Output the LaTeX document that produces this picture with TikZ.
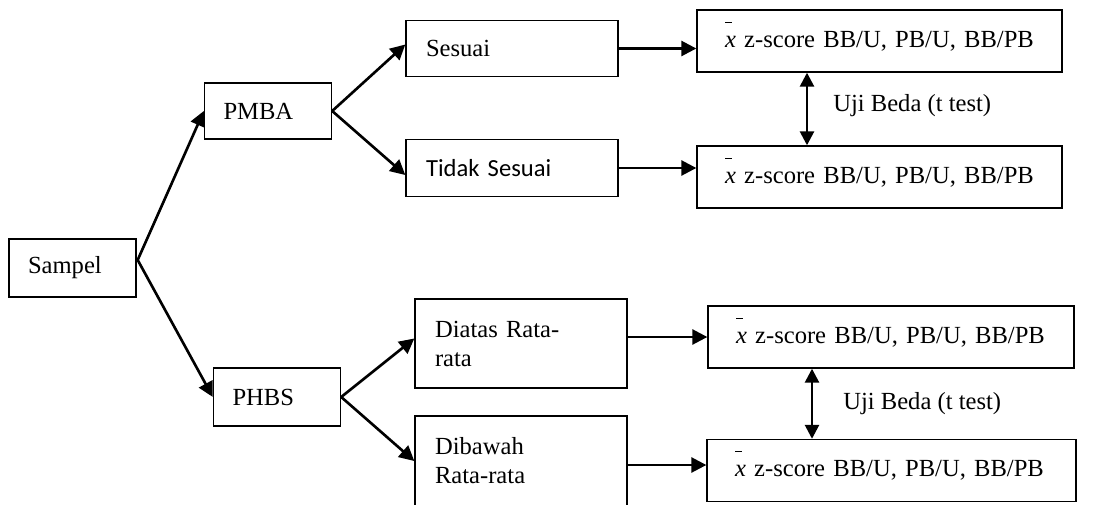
\documentclass[tikz,border=0pt]{standalone}
\usepackage{fontspec}
\setmainfont{Liberation Serif}
\newfontfamily\calibri{Carlito}
\usetikzlibrary{calc,positioning,arrows.meta}

\newcommand{\meanx}{\raisebox{1em}[0pt][0pt]{\rule{0.3em}{0.6pt}}\kern-0.3em\textit{x}}

\begin{document}
\begin{tikzpicture}[x=0.02cm,y=-0.02cm,
  box/.style={draw,line width=0.8pt,font=\fontsize{14pt}{16.5pt}\selectfont,align=left,inner ysep=0pt},
  smallbox/.style={box,text width=1.78cm,inner xsep=0.38cm,minimum height=1.16cm},
  midbox/.style={box,text width=3.44cm,inner xsep=0.4cm,minimum height=1.13cm},
  zbox/.style={box,text width=6.18cm,inner xsep=0.56cm,minimum height=1.24cm},
  arr/.style={-{Triangle[length=0.3cm,width=0.3cm]},line width=1.5pt},
  dbl/.style={{Triangle[length=0.28cm,width=0.28cm]}-{Triangle[length=0.28cm,width=0.28cm]},line width=1.5pt},
  lbl/.style={font=\fontsize{14pt}{16.5pt}\selectfont,inner sep=0pt}]
  \useasboundingbox (0,0) rectangle (1095,504);
  % first level
  \node[smallbox] (sampel) at (72.5,268) {Sampel};
  \node[smallbox,minimum height=1.12cm] (pmba) at (268,111) {PMBA};
  \node[smallbox] (phbs) at (277,397) {PHBS};
  % second level
  \node[midbox] (sesuai) at (512,48.5) {Sesuai};
  \node[midbox] (tidak) at (512,168) {\calibri Tidak Sesuai};
  \node[midbox,minimum height=1.78cm] (diatas) at (521,343.5) {Diatas Rata-\\rata};
  \node[midbox,minimum height=1.8cm] (dibawah) at (521,461) {Dibawah\\Rata-rata};
  % z-score boxes
  \node[zbox] (z1) at (879.5,41) {\meanx\ z-score BB/U, PB/U, BB/PB};
  \node[zbox] (z2) at (879.5,177) {\meanx\ z-score BB/U, PB/U, BB/PB};
  \node[zbox,text width=6.2cm] (z3) at (891,337) {\meanx\ z-score BB/U, PB/U, BB/PB};
  \node[zbox,text width=6.26cm] (z4) at (891.5,470.5) {\meanx\ z-score BB/U, PB/U, BB/PB};
  % connectors
  \coordinate (split) at ($(sampel.east)+(1,-8)$);
  \draw[arr] (split) -- (pmba.west);
  \draw[arr] (split) -- (phbs.west);
  \draw[arr] (pmba.east) -- ([yshift=0.08cm]sesuai.west);
  \draw[arr] (pmba.east) -- ([yshift=-0.14cm]tidak.west);
  \draw[arr] (phbs.east) -- ([yshift=0.1cm]diatas.west);
  \draw[arr] (phbs.east) -- (dibawah.west);
  \draw[arr] (sesuai.east) -- (sesuai.east -| z1.west);
  \draw[arr] (tidak.east) -- (tidak.east -| z2.west);
  \draw[arr] (z3.west -| diatas.east) -- (z3.west);
  \draw[arr] ([yshift=-0.08cm]dibawah.east) -- ([yshift=-0.08cm]dibawah.east -| z4.west);
  \coordinate (t1) at (807,0);
  \coordinate (t2) at (812,0);
  \draw[dbl] (t1 |- z1.south) -- (t1 |- z2.north) node[lbl,midway,right=0.5cm,yshift=0.06cm] {Uji Beda (t test)};
  \draw[dbl] (t2 |- z3.south) -- (t2 |- z4.north) node[lbl,midway,right=0.6cm] {Uji Beda (t test)};
\end{tikzpicture}
\end{document}
